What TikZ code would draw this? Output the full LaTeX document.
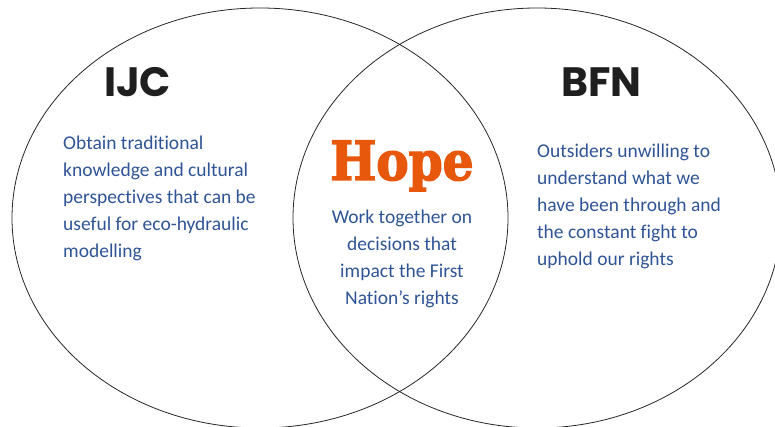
\documentclass[tikz,border=0pt]{standalone}
\usepackage{fontspec}
\setmainfont[Ligatures={NoCommon,NoRare},Contextuals=NoAlternate]{Carlito}
\newfontfamily\titlefont{Poppins}
\newfontfamily\hopefont[BoldFeatures={FakeStretch=0.9,FakeBold=2.6}]{DejaVu Serif}

\definecolor{textblue}{RGB}{46,84,150}
\definecolor{hopeorange}{RGB}{232,88,12}

\tikzset{
  set/.style={draw=black!85, line width=0.8pt},
  settitle/.style={font=\titlefont\bfseries\fontsize{41}{41}\selectfont, text=black!88, inner sep=0pt},
  blurb/.style={font=\fontsize{19.5}{27}\selectfont, text=textblue, inner sep=0pt},
  hope/.style={font=\hopefont\bfseries\fontsize{54}{54}\selectfont, text=hopeorange, inner sep=0pt},
}

\begin{document}
\begin{tikzpicture}[x=1pt,y=-1pt]

        \useasboundingbox (0,0) rectangle (775,427);

        %Circles
        \draw [set] (260,218) ellipse [x radius=248, y radius=210];
        \draw [set] (537,218) ellipse [x radius=244, y radius=210];

        %IJC
        \node [settitle, anchor=base west] (ijc) at (104,97) {IJC};
        \node [blurb, anchor=north west, align=left] (ijctext) at (63,136)
          {Obtain traditional\\knowledge and cultural\\perspectives that can be\\useful for eco-hydraulic\\modelling};

        %BFN
        \node [settitle, anchor=base west] (bfn) at (561,97) {BFN};
        \node [blurb, anchor=north west, align=left] (bfntext) at (537,144)
          {Outsiders unwilling to\\understand what we\\have been through and\\the constant fight to\\uphold our rights};

        %Overlap
        \node [hope, anchor=base] (hope) at (402,180) {Hope};
        \node [blurb, anchor=north, align=center] (hopetext) at (402,210)
          {Work together on\\decisions that\\impact the First\\Nation’s rights};

\end{tikzpicture}
\end{document}
